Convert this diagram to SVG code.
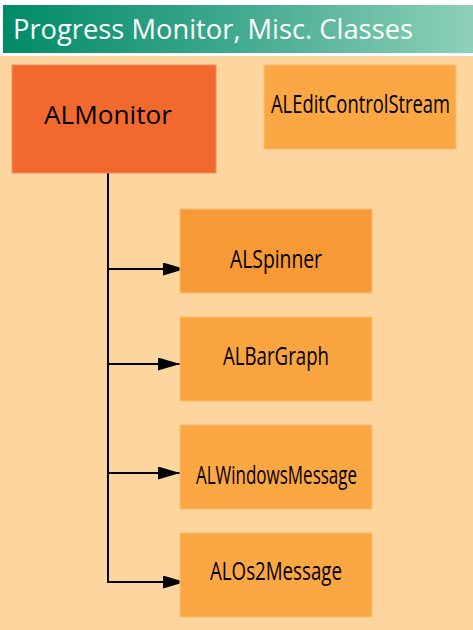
<svg xmlns="http://www.w3.org/2000/svg" width="473" height="630" viewBox="0 0 473 630">
<defs>
<linearGradient id="tg" x1="0" y1="0" x2="1" y2="0">
<stop offset="0" stop-color="#008b67"/>
<stop offset="0.45" stop-color="#3aa68a"/>
<stop offset="1" stop-color="#8ed0b9"/>
</linearGradient>
<marker id="ah" markerUnits="userSpaceOnUse" markerWidth="24" markerHeight="14" refX="22" refY="6.5" orient="auto">
<path d="M0,0 L22,6.5 L0,13 Z" fill="#000"/>
</marker>
<style>
.lbl{font-family:"Open Sans","Noto Sans",sans-serif;font-size:26px;fill:#000;text-anchor:middle}
.box{stroke:#fdbd73;stroke-width:1}
.conn{stroke:#000;stroke-width:2;fill:none}
</style>
</defs>
<rect x="0" y="0" width="473" height="630" fill="#ffffff"/>
<rect x="0" y="56" width="473" height="574" fill="#fdd59e"/>
<g id="title">
<rect x="3" y="5" width="470" height="48" fill="url(#tg)"/>
<text x="13" y="39" font-family="'Open Sans','Noto Sans',sans-serif" font-size="27" fill="#ffffff" textLength="400" lengthAdjust="spacingAndGlyphs">Progress Monitor, Misc. Classes</text>
</g>
<g id="connectors">
<path class="conn" d="M108,173 V582"/>
<path class="conn" d="M107,269 H185" marker-end="url(#ah)"/>
<path class="conn" d="M107,364 H180" marker-end="url(#ah)"/>
<path class="conn" d="M107,473 H180" marker-end="url(#ah)"/>
<path class="conn" d="M107,582 H185" marker-end="url(#ah)"/>
</g>
<g id="ALMonitor">
<rect x="12" y="65" width="204" height="108" fill="#f2692d" stroke="#f68a5e" stroke-width="1"/>
<text class="lbl" x="108" y="124" font-size="27" textLength="128" lengthAdjust="spacingAndGlyphs">ALMonitor</text>
</g>
<g id="ALEditControlStream">
<rect class="box" x="264" y="65" width="192" height="84" fill="#fba744"/>
<text class="lbl" transform="translate(360.5,113) scale(0.72,1)" x="0" y="0" textLength="248.6" lengthAdjust="spacingAndGlyphs">ALEditControlStream</text>
</g>
<g id="ALSpinner">
<rect class="box" x="180" y="209" width="192" height="84" fill="#f79a36"/>
<text class="lbl" transform="translate(276,268) scale(0.72,1)" x="0" y="0" textLength="127.8" lengthAdjust="spacingAndGlyphs">ALSpinner</text>
</g>
<g id="ALBarGraph">
<rect class="box" x="180" y="317" width="192" height="84" fill="#f9a43f"/>
<text class="lbl" transform="translate(276,365) scale(0.72,1)" x="0" y="0" textLength="147.2" lengthAdjust="spacingAndGlyphs">ALBarGraph</text>
</g>
<g id="ALWindowsMessage">
<rect class="box" x="180" y="425" width="192" height="84" fill="#fba744"/>
<text class="lbl" transform="translate(276.5,484) scale(0.72,1)" x="0" y="0" textLength="223.6" lengthAdjust="spacingAndGlyphs">ALWindowsMessage</text>
</g>
<g id="ALOs2Message">
<rect class="box" x="180" y="533" width="192" height="84" fill="#fba744"/>
<text class="lbl" transform="translate(276,580) scale(0.72,1)" x="0" y="0" textLength="183.3" lengthAdjust="spacingAndGlyphs">ALOs2Message</text>
</g>
</svg>
